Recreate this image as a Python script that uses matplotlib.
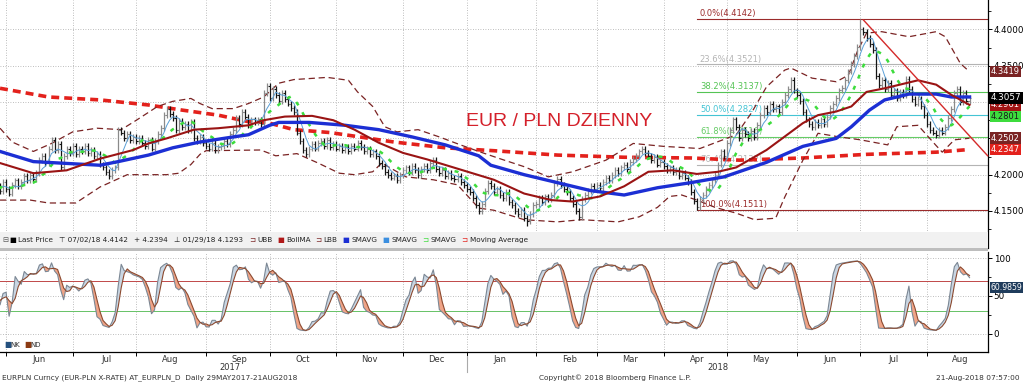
import numpy as np
import pandas as pd
import matplotlib
matplotlib.use("Agg")
import matplotlib.pyplot as plt
from matplotlib.patches import Rectangle

# ---- data ----
dates = pd.bdate_range("2017-05-29", "2018-08-21")

close = [
    4.185, 4.178, 4.190,                                                   # May 17
    4.180, 4.174, 4.186, 4.192, 4.184, 4.190, 4.198, 4.192, 4.200, 4.194, 4.202,
    4.220, 4.226, 4.216, 4.236, 4.248, 4.234, 4.242, 4.210, 4.226, 4.236, 4.230,  # Jun
    4.240, 4.228, 4.236, 4.232, 4.240, 4.230, 4.234, 4.226, 4.228, 4.214, 4.210,
    4.204, 4.198, 4.206, 4.210, 4.262, 4.258, 4.250, 4.256, 4.248, 4.252,         # Jul
    4.246, 4.250, 4.244, 4.240, 4.248, 4.236, 4.246, 4.256, 4.264, 4.282, 4.290, 4.284,
    4.278, 4.262, 4.274, 4.266, 4.270, 4.262, 4.272, 4.250, 4.246, 4.252, 4.244,  # Aug
    4.240, 4.236, 4.244, 4.234, 4.238, 4.240, 4.246, 4.242, 4.256, 4.262, 4.278,
    4.270, 4.286, 4.280, 4.268, 4.276, 4.272, 4.276, 4.270, 4.312, 4.322,         # Sep
    4.306, 4.318, 4.310, 4.302, 4.312, 4.304, 4.298, 4.292, 4.286, 4.258, 4.246,
    4.234, 4.228, 4.236, 4.242, 4.236, 4.244, 4.246, 4.240, 4.248, 4.238, 4.242,  # Oct
    4.236, 4.240, 4.234, 4.238, 4.232, 4.240, 4.236, 4.244, 4.238, 4.232, 4.236,
    4.228, 4.232, 4.226, 4.216, 4.212, 4.204, 4.200, 4.196, 4.198, 4.192, 4.200,  # Nov
    4.206, 4.210, 4.204, 4.212, 4.206, 4.200, 4.208, 4.212, 4.206, 4.216, 4.220,
    4.208, 4.202, 4.206, 4.198, 4.202, 4.196, 4.194, 4.198, 4.190, 4.186,         # Dec
    4.180, 4.176, 4.168, 4.158, 4.150, 4.160, 4.178, 4.188, 4.184, 4.176, 4.180, 4.172,
    4.168, 4.176, 4.162, 4.158, 4.150, 4.146, 4.152, 4.140, 4.136, 4.146, 4.158,  # Jan 18
    4.160, 4.168, 4.162, 4.170, 4.166, 4.172, 4.188, 4.194, 4.186, 4.180,
    4.176, 4.168, 4.160, 4.150, 4.142, 4.166, 4.172, 4.178, 4.184, 4.180,         # Feb
    4.186, 4.182, 4.190, 4.196, 4.192, 4.200, 4.206, 4.202, 4.210, 4.214, 4.208,
    4.218, 4.222, 4.226, 4.232, 4.236, 4.230, 4.226, 4.220, 4.224, 4.214, 4.218,  # Mar
    4.212, 4.206, 4.210, 4.204, 4.206, 4.198, 4.202, 4.196, 4.190, 4.176, 4.164,
    4.156, 4.166, 4.172, 4.180, 4.186, 4.192, 4.200, 4.214, 4.232, 4.226,         # Apr
    4.244, 4.262, 4.276, 4.266, 4.250, 4.262, 4.256, 4.250, 4.260, 4.252, 4.268, 4.282,
    4.292, 4.286, 4.298, 4.290, 4.294, 4.286, 4.300, 4.310, 4.318, 4.330, 4.316,  # May
    4.310, 4.302, 4.286, 4.276, 4.270, 4.266, 4.272, 4.268, 4.276, 4.270, 4.280,
    4.292, 4.298, 4.306, 4.316, 4.320, 4.330, 4.342, 4.352, 4.364, 4.376,         # Jun
    4.400, 4.396, 4.388, 4.380, 4.372, 4.336, 4.324, 4.330, 4.318, 4.326, 4.310,
    4.316, 4.306, 4.314, 4.310, 4.332, 4.318, 4.304, 4.298, 4.304, 4.294, 4.282,  # Jul
    4.270, 4.262, 4.258, 4.254, 4.262, 4.258, 4.266, 4.278, 4.290, 4.312, 4.318,
    4.300, 4.312, 4.302, 4.3057,                                                   # Aug
]
period_high = ("2018-07-02", 4.4142)
period_low = ("2018-01-29", 4.1293)
period_avg = 4.2394

# smooth studies, sampled at trading-day numbers (0 = 29 May 2017)
sma_t = [1, 12, 34, 40, 50, 58, 67, 78, 83, 90, 93, 103, 115, 126, 137, 148, 159, 163,
         174, 185, 196, 207, 218, 229, 240, 254, 266, 277, 282, 288, 293, 301, 310, 315, 321]
sma_v = [4.232, 4.218, 4.213, 4.218, 4.227, 4.237, 4.245, 4.252, 4.255, 4.268, 4.272, 4.272,
         4.268, 4.262, 4.252, 4.241, 4.226, 4.213, 4.200, 4.189, 4.178, 4.172, 4.182, 4.189,
         4.197, 4.217, 4.239, 4.250, 4.266, 4.289, 4.303, 4.311, 4.311, 4.307, 4.307]

bma_t = [1, 12, 23, 34, 45, 50, 56, 65, 73, 83, 88, 95, 104, 111, 118, 126, 134, 142, 153,
         164, 174, 183, 190, 199, 207, 215, 223, 231, 238, 244, 254, 266, 271, 277, 282, 287,
         293, 299, 304, 310, 315, 321]
bma_v = [4.216, 4.202, 4.206, 4.222, 4.234, 4.243, 4.250, 4.262, 4.264, 4.268, 4.275, 4.280,
         4.281, 4.275, 4.262, 4.244, 4.230, 4.221, 4.207, 4.193, 4.174, 4.165, 4.163, 4.170,
         4.184, 4.204, 4.206, 4.201, 4.204, 4.210, 4.234, 4.271, 4.282, 4.287, 4.294, 4.314,
         4.319, 4.325, 4.330, 4.324, 4.310, 4.2961]

ubb_t = [1, 5, 12, 18, 25, 33, 41, 46, 53, 58, 64, 67, 71, 78, 83, 88, 93, 98, 109, 116,
         119, 124, 128, 132, 139, 146, 153, 159, 166, 174, 182, 190, 201, 210, 220, 232, 244,
         249, 254, 260, 262, 269, 277, 281, 284, 287, 292, 301, 310, 313, 318, 321]
ubb_v = [4.264, 4.245, 4.232, 4.243, 4.259, 4.264, 4.262, 4.275, 4.294, 4.301, 4.305, 4.298,
         4.291, 4.291, 4.298, 4.307, 4.326, 4.331, 4.334, 4.330, 4.314, 4.294, 4.266, 4.259,
         4.262, 4.252, 4.241, 4.232, 4.222, 4.211, 4.197, 4.204, 4.220, 4.243, 4.239, 4.236,
         4.255, 4.285, 4.321, 4.344, 4.347, 4.333, 4.328, 4.337, 4.370, 4.395, 4.397, 4.390,
         4.397, 4.390, 4.353, 4.3419]

lbb_t = [1, 11, 17, 26, 34, 43, 56, 60, 64, 67, 69, 87, 92, 99, 106, 113, 118, 124, 127,
         135, 144, 152, 159, 164, 174, 185, 193, 205, 212, 218, 222, 226, 231, 237, 244, 250,
         257, 260, 266, 271, 278, 285, 294, 297, 304, 310, 312, 316, 321]
lbb_v = [4.165, 4.165, 4.161, 4.161, 4.183, 4.200, 4.200, 4.202, 4.214, 4.228, 4.233, 4.234,
         4.226, 4.229, 4.216, 4.202, 4.200, 4.204, 4.216, 4.197, 4.193, 4.186, 4.154, 4.151,
         4.138, 4.135, 4.138, 4.135, 4.142, 4.155, 4.170, 4.172, 4.165, 4.155, 4.147, 4.138,
         4.140, 4.169, 4.220, 4.257, 4.252, 4.248, 4.241, 4.266, 4.268, 4.240, 4.231, 4.248,
         4.2502]

ma200_t = [1, 17, 34, 50, 61, 73, 83, 89, 98, 110, 131, 148, 164, 185, 207, 229, 245, 266,
           287, 310, 321]
ma200_v = [4.319, 4.307, 4.303, 4.296, 4.289, 4.282, 4.273, 4.272, 4.262, 4.258, 4.245,
           4.237, 4.233, 4.227, 4.224, 4.223, 4.220, 4.223, 4.228, 4.231, 4.2347]

fib_pct = [0.0, 23.6, 38.2, 50.0, 61.8, 76.4, 100.0]
fib_hi, fib_lo = 4.4142, 4.1511
fib_colors = ["#9b2b2b", "#b4b4b4", "#55c455", "#44c4d4", "#66cc66", "#b4b4b4", "#9b2b2b"]
fib_start = 231

trend_t = [286, 327]
trend_v = [4.413, 4.226]

osc_last = 60.9859

# ---- derived studies ----
c = pd.Series(close)
opn = c.shift(1).fillna(c.iloc[0])
high = np.maximum(opn, c) + 0.004
low = np.minimum(opn, c) - 0.004
hi_i = dates.get_loc(pd.Timestamp(period_high[0]))
lo_i = dates.get_loc(pd.Timestamp(period_low[0]))
high[hi_i] = period_high[1]
low[lo_i] = period_low[1]

sma_fast = c.rolling(5, min_periods=1).mean()
sma_green = c.rolling(10, min_periods=1).mean()

ll = low.rolling(10, min_periods=1).min()
hh = high.rolling(10, min_periods=1).max()
nk = (100 * (c - ll) / (hh - ll)).rolling(2, min_periods=1).mean()
nd = nk.rolling(3, min_periods=1).mean()

t = np.arange(len(dates))

# ---- figure ----
W, H = 1023, 384
fig = plt.figure(figsize=(W / 100, H / 100), dpi=100)
ax = fig.add_axes([0, 1 - 248 / H, 988 / W, 248 / H])
ax2 = fig.add_axes([0, 1 - 352 / H, 988 / W, 100 / H])

xlo, xhi = 0.99, 327.1
for a in (ax, ax2):
    a.set_xlim(xlo, xhi)
    for s in ("left", "top"):
        a.spines[s].set_visible(False)
    a.spines["right"].set_linewidth(0.9)
    a.yaxis.tick_right()
    a.tick_params(axis="y", direction="out", length=3, width=0.7, pad=1, labelsize=6.3)
ax.spines["bottom"].set_visible(False)
ax.set_ylim(4.0990, 4.4406)
ax2.set_ylim(-23.7, 107.9)

# month ticks / grid
per = dates.to_period("M")
month_first = [int(np.where(per == p)[0][0]) for p in per.unique()]
month_first = [m for m in month_first if m > 0]
for a in (ax, ax2):
    for m in month_first:
        a.axvline(m, color="#a8a8a8", lw=0.6, ls=(0, (1, 2)), zorder=0)
yt = np.arange(4.15, 4.401, 0.05)
ax.set_yticks(yt)
# 4.30 and 4.25 sit under the value flags
ax.set_yticklabels(["" if abs(v - 4.30) < 1e-6 or abs(v - 4.25) < 1e-6 else f"{v:.4f}"
                    for v in yt])
ax.set_yticks(np.arange(4.125, 4.44, 0.025), minor=True)
ax.tick_params(axis="y", which="minor", direction="out", length=2, width=0.6)
for v in yt:
    ax.axhline(v, color="#a8a8a8", lw=0.6, ls=(0, (1, 2)), zorder=0)
ax.set_xticks([])

ax2.set_yticks([0, 50, 100])
ax2.set_yticks([25, 75], minor=True)
ax2.tick_params(axis="y", which="minor", direction="out", length=2, width=0.6)
for v in (0, 50, 100):
    ax2.axhline(v, color="#a8a8a8", lw=0.6, ls=(0, (1, 2)), zorder=0)
ax2.set_xticks(month_first)
ax2.set_xticklabels([])
ax2.tick_params(axis="x", direction="out", length=3, width=0.7)
ax2.spines["bottom"].set_linewidth(0.9)

# fibonacci retracement
for p, col in zip(fib_pct, fib_colors):
    lvl = fib_hi - (fib_hi - fib_lo) * p / 100
    ax.plot([fib_start, xhi], [lvl, lvl], color=col, lw=0.8, zorder=1)
    ax.text(fib_start + 1, lvl + 0.001, f"{p:.1f}%({lvl:.4f})", color=col,
            fontsize=6, va="bottom", ha="left", zorder=1)

# studies
ax.plot(ma200_t, ma200_v, color="#e3211c", lw=2.6, ls=(0, (2.2, 1.4)), zorder=2)
ax.plot(ubb_t, ubb_v, color="#7a2323", lw=0.9, ls=(0, (5, 3)), zorder=2)
ax.plot(lbb_t, lbb_v, color="#7a2323", lw=0.9, ls=(0, (5, 3)), zorder=2)
ax.plot(sma_t, sma_v, color="#1c2fd4", lw=2.4, zorder=4)
ax.plot(bma_t, bma_v, color="#9a1414", lw=1.5, zorder=4)

# price bars
up = c.values >= opn.values
colors = np.where(up, "#8a8a8a", "#151515")
ax.vlines(t, low, high, colors=colors, lw=0.9, zorder=3)
ax.hlines(opn, t - 0.45, t, colors=colors, lw=0.8, zorder=3)
ax.hlines(c, t, t + 0.45, colors=colors, lw=0.8, zorder=3)
ax.plot(t, sma_fast, color="#5a9fd6", lw=0.7, zorder=3)
ax.plot(t, sma_green, color="#3ddc3d", lw=1.8, ls=(0, (1.6, 3.2)), zorder=3)

ax.plot(trend_t, trend_v, color="#d42a2a", lw=1.0, zorder=5, clip_on=False)

ax.text(466 / 988, 1 - 121 / 248, "EUR / PLN DZIENNY", transform=ax.transAxes,
        color="#d4202a", fontsize=14, family="Liberation Sans", va="center", ha="left")

# legend band of the price panel
ax.add_patch(Rectangle((0, 0), 1, 16 / 248, transform=ax.transAxes,
                       facecolor="#f1f1f1", edgecolor="none", zorder=6))
fig.add_artist(Rectangle((0, 1 - 251 / H), 988 / W, 3 / H, transform=fig.transFigure,
                         facecolor="#bdbdbd", edgecolor="none"))

def ftext(x, y, s, **kw):
    return fig.text(x / W, 1 - y / H, s, **kw)

renderer = fig.canvas.get_renderer()
items = [
    ("\u229f", "#555555", 1), ("\u25a0", "black", 2), ("Last Price", "#222222", 6),
    ("\u22a4 07/02/18 4.4142", "#222222", 6), ("+ " + f"{period_avg:.4f}", "#222222", 6),
    ("\u22a5 01/29/18 4.1293", "#222222", 6),
    ("\u2290", "#7a2323", 2), ("UBB", "#222222", 5),
    ("\u25a0", "#b01818", 2), ("BollMA", "#222222", 5),
    ("\u2290", "#7a2323", 2), ("LBB", "#222222", 5),
    ("\u25a0", "#1c2fd4", 2), ("SMAVG", "#222222", 5),
    ("\u25a0", "#3b8fe0", 2), ("SMAVG", "#222222", 5),
    ("\u2290", "#3ddc3d", 2), ("SMAVG", "#222222", 5),
    ("\u2290", "#e3211c", 2), ("Moving Average", "#222222", 5),
]
cx = 2
for s, col, gap in items:
    tx = ftext(cx, 240, s, color=col, fontsize=5.2, va="center", ha="left", zorder=7)
    cx += tx.get_window_extent(renderer).width + gap

# oscillator panel
ax2.axhline(70, color="#c04848", lw=0.7, zorder=1)
ax2.axhline(30, color="#66c266", lw=0.7, zorder=1)
ax2.fill_between(t, nk, nd, where=nk >= nd, interpolate=True, color="#c9d6e3", lw=0, zorder=2)
ax2.fill_between(t, nk, nd, where=nk < nd, interpolate=True, color="#f0a487", lw=0, zorder=2)
ax2.plot(t, nk, color="#7b8794", lw=0.8, zorder=3)
ax2.plot(t, nd, color="#8c4a30", lw=0.8, zorder=3)
ftext(4, 345, "\u25a0", color="#24507e", fontsize=5.5, va="center")
ftext(10, 345, "NK", color="#333333", fontsize=5, va="center")
ftext(24, 345, "\u25a0", color="#8b3a12", fontsize=5.5, va="center")
ftext(30, 345, "ND", color="#333333", fontsize=5, va="center")

# flags on the right axes
def flag(a, v, s, fc, tc="white", fs=6.0, weight="normal"):
    a.annotate(s, xy=(1, v), xycoords=("axes fraction", "data"), xytext=(2, 0),
               textcoords="offset points", va="center", ha="left", fontsize=fs,
               color=tc, weight=weight, zorder=10, annotation_clip=False,
               bbox=dict(boxstyle="square,pad=0.15", fc=fc, ec="none"))

flag(ax, 4.3419, "4.3419", "#7a2323")
flag(ax, 4.2801, "4.2801", "#3ddc3d", tc="#1a1a1a")
flag(ax, 4.2961, "4.2961", "#a01414")
flag(ax, 4.3057, "4.3057", "black", fs=6.3)
flag(ax, 4.2347, "4.2347", "#e3211c")
flag(ax, 4.2502, "4.2502", "#7a2323")
flag(ax2, osc_last, f"{osc_last:.4f}", "#1f3c5c", fs=5.6)

# month / year labels
months = [p.strftime("%b") for p in per.unique()][1:]
for m, name in zip(month_first, months):
    x = ax2.transData.transform((m + 11, 0))[0]
    ftext(x, 359, name, fontsize=6, color="#333333", ha="center", va="center")
yr_split = month_first[7]
for lbl, ctr in (("2017", (0 + yr_split - 1) / 2), ("2018", (yr_split + t[-1]) / 2)):
    x = ax2.transData.transform((ctr, 0))[0]
    ftext(x, 368, lbl, fontsize=6, color="#333333", ha="center", va="center")
xs = ax2.transData.transform((yr_split, 0))[0] / W
fig.add_artist(plt.Line2D([xs, xs], [1 - 356 / H, 1 - 372 / H], color="#aaaaaa", lw=0.8))

ftext(2, 378, "EURPLN Curncy (EUR-PLN X-RATE) AT_EURPLN_D  Daily 29MAY2017-21AUG2018",
      fontsize=5.3, color="#333333", va="center")
ftext(615, 378, "Copyright\u00a9 2018 Bloomberg Finance L.P.", fontsize=5.3,
      color="#333333", ha="center", va="center")
ftext(1020, 378, "21-Aug-2018 07:57:00", fontsize=5.3, color="#333333", ha="right", va="center")

fig.savefig("out.png", dpi=100, facecolor="white")
